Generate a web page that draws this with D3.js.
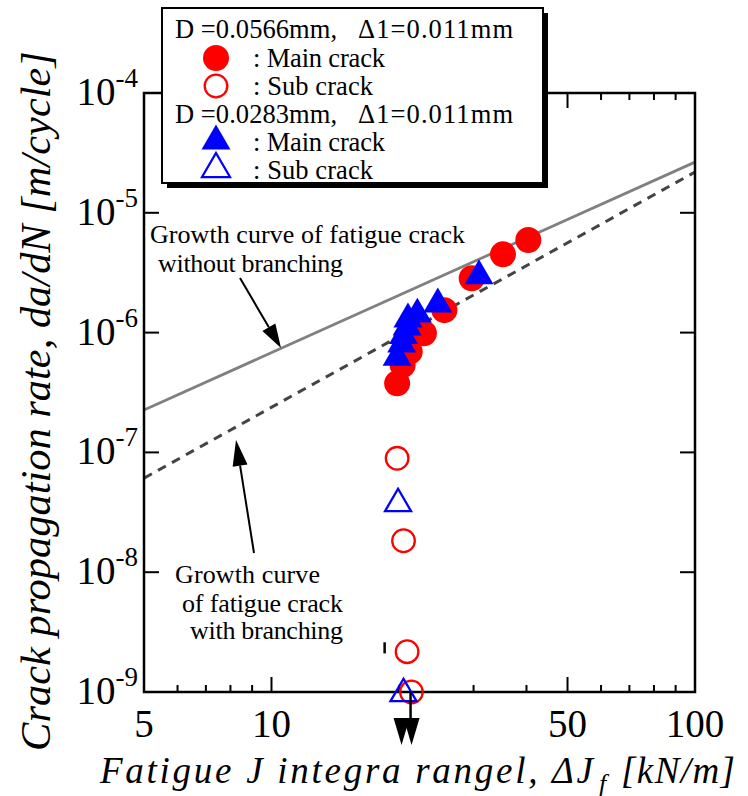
<!DOCTYPE html>
<html>
<head>
<meta charset="utf-8">
<script src="https://cdn.jsdelivr.net/npm/d3@7"></script>
<style>
  html, body { margin: 0; padding: 0; background: #fff; }
  svg { display: block; }
  text { font-family: "Liberation Serif", "Times New Roman", serif; }
  text.it { font-family: "Liberation Serif", "Times New Roman", serif; font-style: italic; }
</style>
</head>
<body>
<svg id="chart" width="748" height="796"></svg>
<script>
// ---------------- data ----------------
const xTickValues = [5, 10, 50, 100];
const xTickLabels = ["5", "10", "50", "100"];
const xMinorTicks = [6, 7, 8, 9, 20, 30, 40, 60, 70, 80, 90];
const yTickValues = [1e-9, 1e-8, 1e-7, 1e-6, 1e-5, 1e-4];
const yTickExponents = ["-9", "-8", "-7", "-6", "-5", "-4"];

// D = 0.0566 mm : main crack (filled red circles)
const mainCircleX = [40.4, 35.2, 29.7, 25.6, 22.9, 21.2, 20.4, 19.8];
const mainCircleY = [5.93e-6, 4.5e-6, 2.84e-6, 1.54e-6, 9.87e-7, 6.93e-7, 5.36e-7, 3.77e-7];
// D = 0.0566 mm : sub crack (open red circles)
const subCircleX = [19.8, 20.5, 20.9, 21.4];
const subCircleY = [8.93e-8, 1.83e-8, 2.17e-9, 1.0e-9];
// D = 0.0283 mm : main crack (filled blue triangles)
const mainTriX = [30.9, 24.7, 22.1, 21.0, 20.9, 20.5, 20.3, 19.8];
const mainTriY = [3.22e-6, 1.87e-6, 1.54e-6, 1.40e-6, 1.20e-6, 1.02e-6, 8.68e-7, 6.72e-7];
// D = 0.0283 mm : sub crack (open blue triangles)
const subTriX = [19.9, 20.5];
const subTriY = [4.01e-8, 1.04e-9];

// growth curves (end points, power-law straight lines on log-log)
const curveX = [5, 100];
const curveWithoutBranching = [2.26e-7, 2.65e-5];
const curveWithBranching = [6.1e-8, 2.19e-5];

// arrow marker under the x axis
const markerX = 21.3;
const artifactX = 18.5, artifactY = [2.6e-9, 2.1e-9];

// ---------------- layout ----------------
const FONT = "'Liberation Serif', 'Times New Roman', serif";
const svg = d3.select("#chart");
const L = 144, R = 695, T = 93, B = 692;
const x = d3.scaleLog().domain([5, 100]).range([L, R]);
const y = d3.scaleLog().domain([1e-9, 1e-4]).range([B, T]);

const RED = "#ff0000", BLUE = "#0000ff";

// bbox-centred triangle symbol
const triBox = {
  draw(ctx, size) {
    const w = Math.sqrt(size), h = w * 0.86;
    ctx.moveTo(0, -h / 2);
    ctx.lineTo(w / 2, h / 2);
    ctx.lineTo(-w / 2, h / 2);
    ctx.closePath();
  }
};
const circleSym = r => d3.symbol().type(d3.symbolCircle).size(Math.PI * r * r)();
const triSym = w => d3.symbol().type(triBox).size(w * w)();

const g = svg.append("g").style("font-family", FONT);
const clipId = "plotclip";
svg.append("defs").append("clipPath").attr("id", clipId)
  .append("rect").attr("x", L).attr("y", T).attr("width", R - L).attr("height", B - T);

// growth curves
const line = d3.line().x(d => x(d[0])).y(d => y(d[1]));
g.append("path")
  .datum(curveX.map((v, i) => [v, curveWithoutBranching[i]]))
  .attr("d", line).attr("fill", "none").attr("stroke", "#808080").attr("stroke-width", 2.8)
  .attr("clip-path", `url(#${clipId})`);
g.append("path")
  .datum(curveX.map((v, i) => [v, curveWithBranching[i]]))
  .attr("d", line).attr("fill", "none").attr("stroke", "#444").attr("stroke-width", 3)
  .attr("stroke-dasharray", "9,7")
  .attr("clip-path", `url(#${clipId})`);

// ticks
const tk = g.append("g").attr("stroke", "#000").attr("stroke-width", 2);
xTickValues.forEach(v => {
  tk.append("line").attr("x1", x(v)).attr("x2", x(v)).attr("y1", B).attr("y2", B - 15);
  tk.append("line").attr("x1", x(v)).attr("x2", x(v)).attr("y1", T).attr("y2", T + 15);
});
xMinorTicks.forEach(v => {
  tk.append("line").attr("x1", x(v)).attr("x2", x(v)).attr("y1", B).attr("y2", B - 7);
  tk.append("line").attr("x1", x(v)).attr("x2", x(v)).attr("y1", T).attr("y2", T + 7);
});
yTickValues.forEach(v => {
  tk.append("line").attr("x1", L).attr("x2", L + 15).attr("y1", y(v)).attr("y2", y(v));
  tk.append("line").attr("x1", R).attr("x2", R - 15).attr("y1", y(v)).attr("y2", y(v));
});

// frame
g.append("rect").attr("x", L).attr("y", T).attr("width", R - L).attr("height", B - T)
  .attr("fill", "none").attr("stroke", "#000").attr("stroke-width", 2.5);

// tick labels
const xl = g.append("g").attr("font-size", 39).attr("text-anchor", "middle");
xTickValues.forEach((v, i) => {
  xl.append("text").attr("x", x(v)).attr("y", 737).text(xTickLabels[i]);
});
const yl = g.append("g").attr("text-anchor", "end");
yTickValues.forEach((v, i) => {
  const t = yl.append("text").attr("x", 138).attr("y", y(v) + 12).attr("font-size", 39);
  t.append("tspan").text("10");
  t.append("tspan").attr("font-size", 27).attr("dy", -18).text(yTickExponents[i]);
});

// ---------------- data marks ----------------
const marks = g.append("g");
mainCircleX.forEach((v, i) => {
  marks.append("path").attr("d", circleSym(13))
    .attr("transform", `translate(${x(v)},${y(mainCircleY[i])})`).attr("fill", RED);
});
mainTriX.forEach((v, i) => {
  marks.append("path").attr("d", triSym(29))
    .attr("transform", `translate(${x(v)},${y(mainTriY[i])})`).attr("fill", BLUE);
});
subCircleX.forEach((v, i) => {
  marks.append("path").attr("d", circleSym(11.3))
    .attr("transform", `translate(${x(v)},${y(subCircleY[i])})`)
    .attr("fill", "none").attr("stroke", RED).attr("stroke-width", 2.3);
});
subTriX.forEach((v, i) => {
  marks.append("path").attr("d", triSym(26))
    .attr("transform", `translate(${x(v)},${y(subTriY[i])})`)
    .attr("fill", "none").attr("stroke", BLUE).attr("stroke-width", 2.3);
});

// small artifact mark and double arrow under axis
g.append("line").attr("x1", x(artifactX)).attr("x2", x(artifactX))
  .attr("y1", y(artifactY[0])).attr("y2", y(artifactY[1]))
  .attr("stroke", "#000").attr("stroke-width", 2.5);
const mx = x(markerX);
g.append("line").attr("x1", mx).attr("x2", mx).attr("y1", B).attr("y2", 722)
  .attr("stroke", "#000").attr("stroke-width", 2.5);
[-9, 1].forEach(dx => {
  g.append("path").attr("d", `M${mx + dx - 8},718 L${mx + dx + 8},718 L${mx + dx},745 Z`).attr("fill", "#000");
});

// ---------------- annotations ----------------
function arrow(x1, y1, x2, y2, len, wid) {
  const ang = Math.atan2(y2 - y1, x2 - x1);
  const bx = x2 - len * Math.cos(ang), by = y2 - len * Math.sin(ang);
  g.append("line").attr("x1", x1).attr("y1", y1).attr("x2", bx).attr("y2", by)
    .attr("stroke", "#000").attr("stroke-width", 2);
  const px = -Math.sin(ang) * wid / 2, py = Math.cos(ang) * wid / 2;
  g.append("path").attr("d", `M${x2},${y2} L${bx + px},${by + py} L${bx - px},${by - py} Z`).attr("fill", "#000");
}
function label(parent, tx, ty, len, str) {
  return parent.append("text").attr("x", tx).attr("y", ty)
    .attr("textLength", len).attr("lengthAdjust", "spacing").text(str);
}
const ann = g.append("g").attr("font-size", 26);
label(ann, 150, 243, 315, "Growth curve of fatigue crack");
label(ann, 158, 272, 185, "without branching");
label(ann, 175, 583, 145, "Growth curve");
label(ann, 182, 612, 161, "of fatigue crack");
label(ann, 190, 639, 153, "with branching");
arrow(240, 278, 281, 348, 24, 15);
arrow(254, 553, 236, 440, 26, 15);

// ---------------- legend ----------------
const lg = g.append("g");
lg.append("rect").attr("x", 167).attr("y", 13).attr("width", 381).attr("height", 175).attr("fill", "#000");
lg.append("rect").attr("x", 162).attr("y", 8).attr("width", 381).attr("height", 175)
  .attr("fill", "#fff").attr("stroke", "#000").attr("stroke-width", 2);
const lt = lg.append("g").attr("font-size", 26.5);
label(lt, 175, 38, 162, "D =0.0566mm,");
label(lt, 358, 38, 155, "Δ1=0.011mm");
label(lt, 253, 67, 132, ": Main crack");
label(lt, 253, 95, 120, ": Sub crack");
label(lt, 175, 123, 162, "D =0.0283mm,");
label(lt, 358, 123, 155, "Δ1=0.011mm");
label(lt, 253, 151, 132, ": Main crack");
label(lt, 253, 179, 120, ": Sub crack");
lg.append("path").attr("d", circleSym(13)).attr("transform", "translate(216,58)").attr("fill", RED);
lg.append("path").attr("d", circleSym(11.3)).attr("transform", "translate(216,86)")
  .attr("fill", "none").attr("stroke", RED).attr("stroke-width", 2.3);
lg.append("path").attr("d", triSym(29)).attr("transform", "translate(216,137)").attr("fill", BLUE);
lg.append("path").attr("d", triSym(28)).attr("transform", "translate(216,165)")
  .attr("fill", "none").attr("stroke", BLUE).attr("stroke-width", 2.3);

// ---------------- axis titles ----------------
const yTitle = g.append("text").attr("class", "it")
  .attr("transform", "translate(50,401) rotate(-90)")
  .attr("text-anchor", "middle")
  .style("font-family", FONT).style("font-style", "italic").style("font-size", "38px")
  .text("Crack propagation rate, da/dN [m/cycle]");
const natural = yTitle.node().getComputedTextLength();
const fitSize = Math.min(44, Math.max(30, 38 * 700 / natural));
yTitle.style("font-size", fitSize + "px");
const natural2 = yTitle.node().getComputedTextLength();
if (Math.abs(natural2 - 700) > 4) yTitle.attr("textLength", 700).attr("lengthAdjust", "spacing");

const xt = g.append("g");
xt.append("text").attr("class", "it").attr("x", 100).attr("y", 783)
  .style("font-family", FONT).style("font-style", "italic").style("font-size", "37px")
  .attr("textLength", 493).attr("lengthAdjust", "spacing")
  .text("Fatigue J integra rangel, ΔJ");
xt.append("text").attr("class", "it").attr("x", 599).attr("y", 792)
  .style("font-family", FONT).style("font-style", "italic").style("font-size", "26px").text("f");
xt.append("text").attr("class", "it").attr("x", 621).attr("y", 783)
  .style("font-family", FONT).style("font-style", "italic").style("font-size", "37px")
  .attr("textLength", 114).attr("lengthAdjust", "spacing").text("[kN/m]");
</script>
</body>
</html>
